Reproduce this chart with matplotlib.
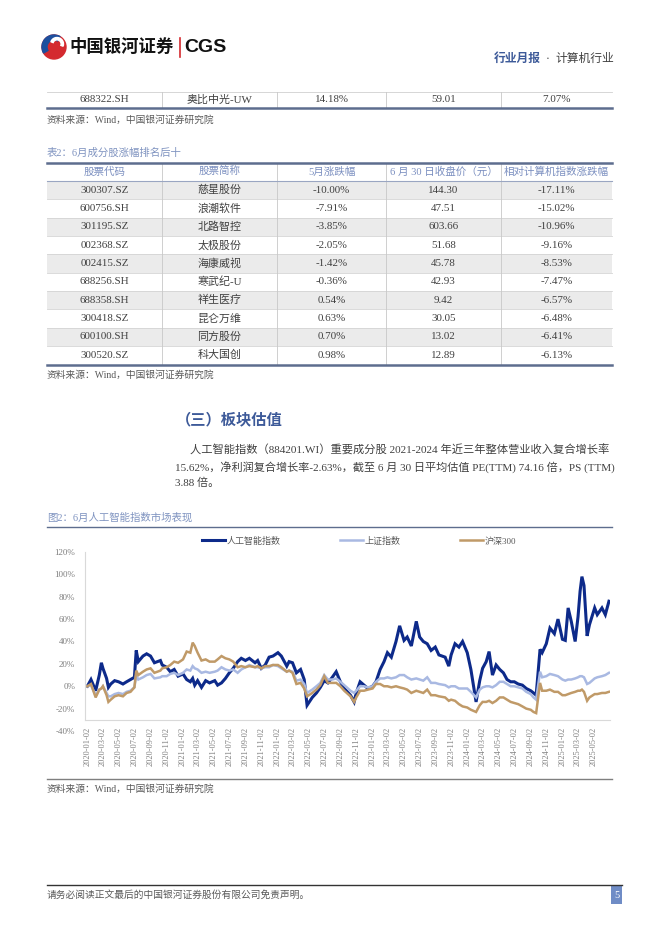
import pandas as pd
import matplotlib
matplotlib.use('Agg')
import matplotlib.pyplot as plt
from matplotlib.patches import Rectangle, Circle, Wedge

plt.rcParams['font.family'] = ['Liberation Serif', 'Noto Sans CJK SC']

# ---- table data ----
top_row = ['688322.SH', '奥比中光-UW', '14.18%', '59.01', '7.07%']

table_header = ['股票代码', '股票简称', '5月涨跌幅', '6 月 30 日收盘价（元）', '相对计算机指数涨跌幅']
codes = ['300307.SZ', '600756.SH', '301195.SZ', '002368.SZ', '002415.SZ',
         '688256.SH', '688358.SH', '300418.SZ', '600100.SH', '300520.SZ']
names = ['慈星股份', '浪潮软件', '北路智控', '太极股份', '海康威视',
         '寒武纪-U', '祥生医疗', '昆仑万维', '同方股份', '科大国创']
may_chg = ['-10.00%', '-7.91%', '-3.85%', '-2.05%', '-1.42%',
           '-0.36%', '0.54%', '0.63%', '0.70%', '0.98%']
close_0630 = ['144.30', '47.51', '603.66', '51.68', '45.78',
              '42.93', '9.42', '30.05', '13.02', '12.89']
rel_chg = ['-17.11%', '-15.02%', '-10.96%', '-9.16%', '-8.53%',
           '-7.47%', '-6.57%', '-6.48%', '-6.41%', '-6.13%']

# ---- chart data (cumulative change, %) ----
dates = [
    '2020-01-02', '2020-01-16', '2020-02-03', '2020-02-17', '2020-02-25', '2020-03-02', '2020-03-16', '2020-03-23',
    '2020-04-01', '2020-04-16', '2020-05-01', '2020-05-18', '2020-06-01', '2020-06-16', '2020-07-01', '2020-07-08',
    '2020-07-16', '2020-08-03', '2020-08-17', '2020-09-01', '2020-09-16', '2020-10-09', '2020-10-16', '2020-11-02',
    '2020-11-16', '2020-12-01', '2020-12-16', '2021-01-04', '2021-01-18', '2021-02-01', '2021-02-10', '2021-02-18',
    '2021-03-01', '2021-03-16', '2021-04-01', '2021-04-16', '2021-05-06', '2021-05-17', '2021-06-01', '2021-06-16',
    '2021-07-01', '2021-07-16', '2021-08-02', '2021-08-16', '2021-09-01', '2021-09-16', '2021-10-08', '2021-10-18',
    '2021-11-01', '2021-11-16', '2021-12-01', '2021-12-16', '2022-01-04', '2022-01-17', '2022-02-07', '2022-02-16',
    '2022-03-01', '2022-03-16', '2022-04-01', '2022-04-15', '2022-04-26', '2022-05-16', '2022-06-01', '2022-06-16',
    '2022-07-01', '2022-07-15', '2022-08-01', '2022-08-16', '2022-09-01', '2022-09-16', '2022-10-10', '2022-10-24',
    '2022-11-01', '2022-11-16', '2022-12-01', '2022-12-16', '2023-01-03', '2023-01-16', '2023-02-01', '2023-02-16',
    '2023-03-01', '2023-03-16', '2023-04-03', '2023-04-17', '2023-05-04', '2023-05-16', '2023-06-01', '2023-06-20',
    '2023-07-03', '2023-07-17', '2023-08-01', '2023-08-16', '2023-09-01', '2023-09-15', '2023-10-09', '2023-10-23',
    '2023-11-01', '2023-11-16', '2023-12-01', '2023-12-15', '2024-01-02', '2024-01-16', '2024-02-05', '2024-02-19',
    '2024-03-01', '2024-03-15', '2024-03-26', '2024-04-08', '2024-04-22', '2024-05-06', '2024-05-20', '2024-06-03',
    '2024-06-17', '2024-07-01', '2024-07-16', '2024-08-01', '2024-08-16', '2024-09-02', '2024-09-13', '2024-09-23',
    '2024-10-08', '2024-10-16', '2024-11-01', '2024-11-15', '2024-12-02', '2024-12-16', '2025-01-02', '2025-01-13',
    '2025-01-24', '2025-02-05', '2025-02-20', '2025-03-03', '2025-03-11', '2025-03-18', '2025-03-26', '2025-04-07',
    '2025-04-16', '2025-05-06', '2025-05-16', '2025-06-03', '2025-06-16', '2025-06-30',
]
ai_index = [
    0, 6, -4, 10, 21, 16, 7, -1, 2, 5, 4, 2, 4, 6, 8, 32,
    22, 27, 29, 27, 21, 23, 19, 17, 13, 15, 9, 11, 6, 4, 7, 1,
    5, -1, 5, 3, 5, 1, 3, 7, 12, 16, 22, 25, 23, 25, 21, 23,
    16, 19, 26, 27, 30, 27, 18, 22, 21, 12, 15, 6, -17, -10, -6, -1,
    5, 3, 8, 13, 4, -2, -8, -14, -6, 4, 1, -2, 0, 4, 15, 22,
    30, 26, 40, 54, 41, 44, 36, 58, 44, 40, 38, 32, 35, 28, 26, 18,
    28, 38, 35, 40, 30, 15, -14, 5, 16, 22, 31, 10, 19, 15, 12, 6,
    4, 4, 2, 1, -2, -4, -6, -8, 33, 30, 38, 52, 47, 60, 42, 41,
    70, 58, 40, 62, 85, 98, 90, 45, 55, 70, 64, 70, 64, 76,
]
sse_index = [
    0, 1, -8, -3, -2, 0, -6, -9, -9, -7, -6, -7, -5, -4, -1, 10,
    6, 8, 10, 11, 7, 8, 9, 9, 11, 12, 10, 12, 15, 14, 18, 16,
    15, 12, 13, 12, 13, 14, 17, 15, 14, 15, 12, 15, 17, 19, 17, 17,
    16, 17, 17, 19, 18, 16, 13, 14, 13, 5, 6, 2, -6, -3, 0, 3,
    10, 6, 6, 7, 4, 1, -4, -6, -4, 0, 0, -1, 0, 4, 7, 7,
    8, 7, 8, 10, 10, 8, 6, 7, 6, 5, 8, 3, 3, 2, 1, -1,
    0, 0, -2, -2, -2, -5, -10, -3, -1, 0, 0, -1, 1, 4, 4, 2,
    0, 0, -1, -2, -5, -7, -10, -12, 13, 8, 9, 11, 10, 9, 6, 5,
    6, 6, 7, 8, 9, 9, 8, 2, 3, 7, 8, 9, 10, 12,
]
csi300 = [
    0, 2, -10, -3, -2, 0, -8, -14, -12, -9, -8, -9, -6, -5, -1, 14,
    10, 13, 15, 16, 12, 14, 16, 17, 19, 22, 21, 24, 31, 30, 39, 36,
    30, 23, 24, 22, 22, 24, 27, 25, 24, 22, 17, 18, 17, 18, 17, 18,
    16, 18, 18, 19, 19, 17, 13, 14, 12, 2, 3, -2, -9, -6, -3, 1,
    9, 3, 3, 3, 0, -4, -9, -14, -10, -4, -4, -3, -2, 2, 2, 0,
    0, -1, 0, -1, -2, -3, -6, -4, -5, -6, -3, -8, -8, -9, -10, -13,
    -12, -13, -16, -18, -19, -21, -23, -17, -14, -14, -13, -15, -13, -10, -10, -12,
    -14, -15, -16, -18, -20, -21, -23, -24, 3, -4, -4, -3, -5, -5, -8, -8,
    -7, -6, -5, -4, -4, -3, -5, -13, -10, -7, -7, -6, -6, -5,
]
series_names = ['人工智能指数', '上证指数', '沪深300']
tick_dates = [
    '2020-01-02', '2020-03-02', '2020-05-02', '2020-07-02', '2020-09-02', '2020-11-02',
    '2021-01-02', '2021-03-02', '2021-05-02', '2021-07-02', '2021-09-02', '2021-11-02',
    '2022-01-02', '2022-03-02', '2022-05-02', '2022-07-02', '2022-09-02', '2022-11-02',
    '2023-01-02', '2023-03-02', '2023-05-02', '2023-07-02', '2023-09-02', '2023-11-02',
    '2024-01-02', '2024-03-02', '2024-05-02', '2024-07-02', '2024-09-02', '2024-11-02',
    '2025-01-02', '2025-03-02', '2025-05-02',
]
y_ticks = [-40, -20, 0, 20, 40, 60, 80, 100, 120]

# ---- page ----
W, H = 662, 936
fig = plt.figure(figsize=(W / 100, H / 100), dpi=100)
page = fig.add_axes([0, 0, 1, 1])
page.set_xlim(0, W)
page.set_ylim(H, 0)
page.axis('off')

TEXT = '#404040'
GRAY = '#595959'
BLUE_HEAD = '#3d5a99'
CAPTION = '#7f93c0'
RULE = '#5d6d8e'
CELL = 7.9


def txt(x, y, s, size=7.5, color=TEXT, ha='left', **kw):
    page.text(x, y, s, fontsize=size, color=color, ha=ha, va='center', **kw)


# logo
page.add_patch(Circle((54, 47), 12, color='#d42a2f'))
page.add_patch(Wedge((54, 47), 12, 150, 300, width=5, color='#1d4f9e'))
page.add_patch(Wedge((57, 44), 6.5, 200, 20, width=2.4, color='white'))
txt(69, 47, '中国银河证券', size=12.5, color='#111111', fontweight='bold',
    family=['Noto Sans CJK SC'])
page.plot([180, 180], [38, 57], color='#d42a2f', lw=1.2)
txt(184, 47, 'CGS', size=14, color='#111111', fontweight='bold', family=['Liberation Sans'])
txt(494, 59, '行业月报', size=8.5, color=BLUE_HEAD, fontweight='bold')
txt(546, 59, '·', size=8.5, color=TEXT)
txt(556, 59, '计算机行业', size=8.5, color=TEXT)

col_edges = [47, 162, 277, 386, 501, 612]
col_mid = [(a + b) / 2 for a, b in zip(col_edges[:-1], col_edges[1:])]

# table 1 (last row only)
page.plot([47, 612], [91.5, 91.5], color='#d0d0d0', lw=0.6)
for xe in col_edges[1:-1]:
    page.plot([xe, xe], [91.5, 108], color='#c8c8c8', lw=0.6)
for xm, s in zip(col_mid, top_row):
    txt(xm, 100, s, size=CELL, ha='center')
page.plot([47, 612], [108, 108], color=RULE, lw=1.8)
txt(47, 120, '资料来源：Wind，中国银河证券研究院', size=7, color=GRAY)

# table 2
txt(47, 153, '表2：6月成分股涨幅排名后十', size=7.5, color=CAPTION)
row_h = 18.35
top, head_bot = 163, 181
for i in range(len(codes)):
    y0 = head_bot + i * row_h
    if i % 2 == 0:
        page.add_patch(Rectangle((47, y0), 565, row_h, color='#ebebeb', lw=0))
    page.plot([47, 612], [y0, y0], color='#d4d4d4', lw=0.6)
    cells = [codes[i], names[i], may_chg[i], close_0630[i], rel_chg[i]]
    for xm, s in zip(col_mid, cells):
        txt(xm, y0 + row_h / 2, s, size=CELL, ha='center')
bottom = head_bot + len(codes) * row_h
for xe in col_edges[1:-1]:
    page.plot([xe, xe], [top, bottom], color='#c8c8c8', lw=0.6)
for xm, s in zip(col_mid, table_header):
    txt(xm, (top + head_bot) / 2, s, size=7.6, color='#7b8fc0', ha='center')
page.plot([47, 612], [top, top], color=RULE, lw=1.8)
page.plot([47, 612], [head_bot, head_bot], color='#9aa6c2', lw=0.8)
page.plot([47, 612], [bottom, bottom], color=RULE, lw=1.8)
txt(47, 375, '资料来源：Wind，中国银河证券研究院', size=7, color=GRAY)

# section text
txt(176, 420, '（三）板块估值', size=11, color=BLUE_HEAD, fontweight='bold')
txt(190, 450, '人工智能指数（884201.WI）重要成分股 2021-2024 年近三年整体营业收入复合增长率', size=8.1)
txt(175, 467, '15.62%，净利润复合增长率-2.63%，截至 6 月 30 日平均估值 PE(TTM) 74.16 倍，PS (TTM)', size=8.0)
txt(175, 483, '3.88 倍。', size=8.0)

# chart frame
txt(47, 518, '图2：6月人工智能指数市场表现', size=7.5, color=CAPTION)
page.plot([47, 612], [527, 527], color=RULE, lw=1)
page.plot([47, 612], [779, 779], color='#7f7f7f', lw=1)
txt(47, 789, '资料来源：Wind，中国银河证券研究院', size=7, color=GRAY)

# footer
page.plot([47, 622], [885, 885], color='#333333', lw=1)
txt(47, 895, '请务必阅读正文最后的中国银河证券股份有限公司免责声明。', size=7, color=GRAY)
page.add_patch(Rectangle((611, 886), 11, 18, color='#6f8cc6', lw=0))
txt(616.5, 895, '5', size=7.5, color='white', ha='center')

# ---- chart ----
ax = fig.add_axes([85 / W, 1 - 731 / H, 525 / W, 179 / H])
ax.patch.set_alpha(0)
# move the spines first: set_position resets the tick labels
for side in ['top', 'right']:
    ax.spines[side].set_visible(False)
ax.spines['bottom'].set_position(('data', -30))
ax.spines['left'].set_bounds(-30, 120)
for side in ['bottom', 'left']:
    ax.spines[side].set_color('#d9d9d9')

x = pd.to_datetime(dates)
colors = ['#0d2a8a', '#a9b9e2', '#c09a68']
widths = [2.2, 1.8, 1.8]
for vals, name, c, lw in zip([ai_index, sse_index, csi300], series_names, colors, widths):
    ax.plot(x, vals, color=c, lw=lw, label=name, solid_joinstyle='miter')

ax.set_ylim(-40, 120)
ax.set_yticks(y_ticks)
ax.set_yticklabels([f'{v}%' for v in y_ticks])
ax.set_xlim(pd.Timestamp('2019-12-24'), pd.Timestamp('2025-07-04'))
ax.set_xticks(pd.to_datetime(tick_dates))
ax.set_xticklabels(tick_dates, rotation=90, va='top')
ax.tick_params(axis='both', length=0, colors='#7f7f7f')
ax.tick_params(axis='y', labelsize=6.5, pad=7)
ax.tick_params(axis='x', labelsize=6, pad=5)
ax.legend(loc='center', bbox_to_anchor=(359 / W, 1 - 541 / H), bbox_transform=fig.transFigure,
          ncol=3, frameon=False, fontsize=6.5, handlelength=2.6, handletextpad=0.2,
          columnspacing=6.5, labelcolor='#595959')

fig.savefig('out.png', dpi=100)
